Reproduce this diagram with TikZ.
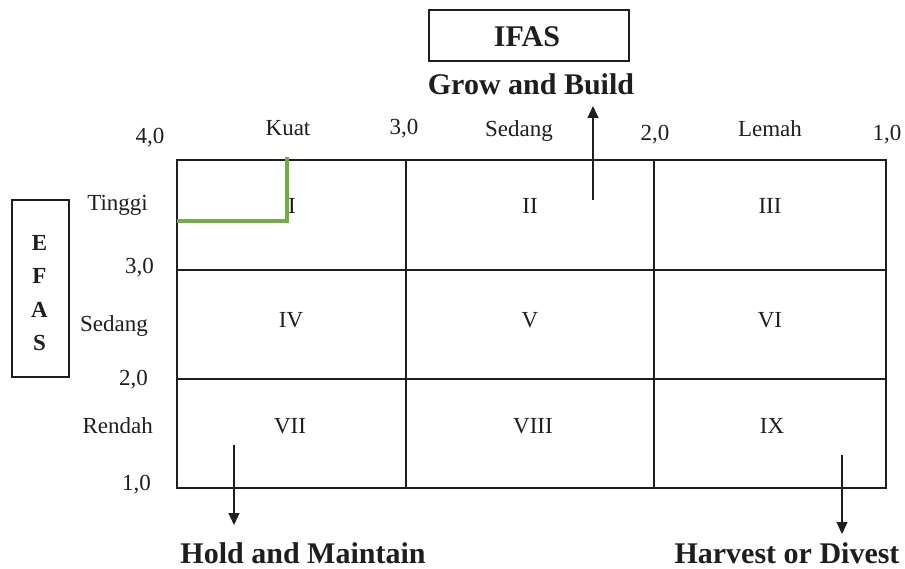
\documentclass[tikz,border=0pt]{standalone}
\usepackage{graphicx}
\usepackage{fontspec}
\setmainfont{Liberation Serif}
\usetikzlibrary{arrows.meta}
\definecolor{hlgreen}{RGB}{112,173,71}
\definecolor{ink}{RGB}{30,30,30}
\tikzset{
  lbl/.style={font=\fontsize{23}{26}\selectfont, text=ink, inner sep=0pt, anchor=base},
  lblr/.style={lbl, anchor=base east},
  big/.style={font=\fontsize{30}{34}\selectfont\bfseries, text=ink, inner sep=0pt, anchor=base},
  efasl/.style={font=\fontsize{23}{26}\selectfont\bfseries, text=ink, inner sep=0pt, anchor=base},
  gridline/.style={line width=1.3pt, draw=ink},
  frame/.style={line width=1.2pt, draw=ink},
  arr/.style={line width=1.3pt, draw=ink, -{Triangle[length=12pt,width=11pt]}},
  hl/.style={line width=3.5pt, draw=hlgreen}
}
\begin{document}
\begin{tikzpicture}[x=1pt,y=-1pt]
\useasboundingbox (0,0) rectangle (905,569);
% grid
\draw[gridline] (177,160) rectangle (886,488);
\draw[gridline] (406,160) -- (406,488);
\draw[gridline] (654,160) -- (654,488);
\draw[gridline] (177,270) -- (886,270);
\draw[gridline] (177,379) -- (886,379);
% green highlight
\draw[hl] (177,221) -- (287,221) -- (287,157);
% IFAS box
\node[draw, frame, minimum width=200pt, minimum height=51pt, inner sep=0pt] (ifasbox) at (529,35.5) {};
\node[big] (ifas) at (527,47) {IFAS};
\node[big] (grow) at (531,95) {Grow and Build};
% EFAS box
\node[draw, frame, minimum width=57pt, minimum height=177pt, inner sep=0pt] (efasbox) at (40.5,288.5) {};
\node[efasl] (ee) at (39.5,251) {E};
\node[efasl] (ef) at (39.5,284) {F};
\node[efasl] (ea) at (39.5,318) {A};
\node[efasl] (es) at (39.5,350) {S};
% top labels
\node[lbl] (t40) at (150,144) {4,0};
\node[lbl] (tkuat) at (288,136) {Kuat};
\node[lbl] (t30) at (404,135) {3,0};
\node[lbl] (tsed) at (519,137) {Sedang};
\node[lbl] (t20) at (655,141) {2,0};
\node[lbl] (tlem) at (770,137) {Lemah};
\node[lbl] (t10) at (887,141) {1,0};
% left labels
\node[lblr] (ltin) at (148,211) {Tinggi};
\node[lblr] (l30) at (154,274) {3,0};
\node[lblr] (lsed) at (148,332) {Sedang};
\node[lblr] (l20) at (148,385) {2,0};
\node[lblr] (lren) at (153,433) {Rendah};
\node[lblr] (l10) at (151,490) {1,0};
% cell labels
\node[lbl] (c1) at (292,214) {I};
\node[lbl] (c2) at (530,214) {II};
\node[lbl] (c3) at (770,214) {III};
\node[lbl] (c4) at (291,327) {IV};
\node[lbl] (c5) at (530,327) {V};
\node[lbl] (c6) at (770,327) {VI};
\node[lbl] (c7) at (290,433) {VII};
\node[lbl] (c8) at (533,433) {VIII};
\node[lbl] (c9) at (772,433) {IX};
% bottom headings
\node[big] (hold) at (303,563) {Hold and Maintain};
\node[big] (harv) at (787,563) {Harvest or Divest};
% arrows
\coordinate (upS) at (593,200);
\coordinate (upE) at (593,106);
\coordinate (hS) at (234,445);
\coordinate (hE) at (234,525);
\coordinate (dS) at (842,455);
\coordinate (dE) at (842,534);
\draw[arr] (upS) -- (upE);
\draw[arr] (hS) -- (hE);
\draw[arr] (dS) -- (dE);
\end{tikzpicture}
\end{document}
